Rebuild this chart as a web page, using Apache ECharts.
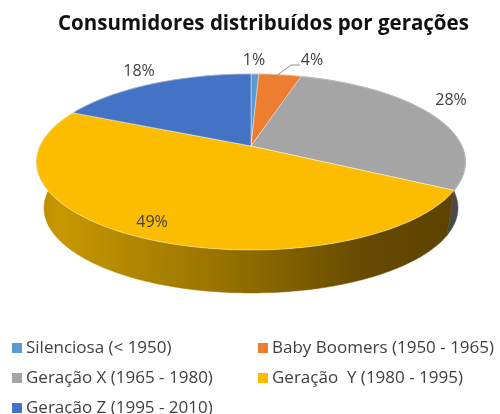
<!DOCTYPE html>
<html>
<head>
<meta charset="utf-8">
<style>html,body{margin:0;padding:0;background:#fff}#c{width:500px;height:414px;filter:blur(0.45px)}</style>
<script src="https://cdn.jsdelivr.net/npm/echarts@6/dist/echarts.min.js"></script>
</head>
<body>
<div id="c"></div>
<script>
var categories = ['Silenciosa (< 1950)', 'Baby Boomers (1950 - 1965)', 'Geração X (1965 - 1980)', 'Geração  Y (1980 - 1995)', 'Geração Z (1995 - 2010)'];
var shares = [0.7, 3.8, 28.4, 49, 18.1];
var colors = ['#5b9bd5', '#ed7d31', '#a5a5a5', '#fcbd00', '#4472c4'];

// layout, not data
var apex = {x: 251, y: 146};
var persp = {a: 85.1, b: 210.9, k: -0.1818, s: 0.965, d: 46.6};
var labelXY = [[254, 60], [312, 60], [451, 100], [152, 222], [139, 71]];
var FONT = '"Open Sans"';

function project(theta, r, lower) {
  var x = Math.sin(theta) * r, y = -Math.cos(theta) * r;
  var w = 1 + persp.k * y;
  var px = persp.b * x / w, py = persp.a * y / w;
  if (lower) { px *= persp.s; py = py * persp.s + persp.d; }
  return [apex.x + px, apex.y + py];
}
var total = shares.reduce(function (p, c) { return p + c; }, 0);
var cum = [0];
shares.forEach(function (v, i) { cum.push(cum[i] + v); });
function ang(v) { return v / total * Math.PI * 2; }
function arc(i, lower) {
  var a0 = ang(cum[i]), a1 = ang(cum[i + 1]), n = Math.max(4, Math.ceil((a1 - a0) * 60)), pts = [];
  for (var j = 0; j <= n; j++) pts.push(project(a0 + (a1 - a0) * j / n, 1, lower));
  return pts;
}
var wallFill = ['#3f6f9c', '#a85820', '#4a4a4a', '#c79700', '#2f5597'];
function wallGradient(i) {
  if (i === 3) {
    return new echarts.graphic.LinearGradient(38, 0, 450, 0, [
      {offset: 0, color: '#b98d00'}, {offset: 0.05, color: '#c79800'},
      {offset: 0.45, color: '#977200'}, {offset: 0.8, color: '#654a00'}, {offset: 1, color: '#5c4300'}
    ], true);
  }
  return wallFill[i];
}

var series = [{
  type: 'custom', name: 'walls', coordinateSystem: 'none', silent: true, z: 1,
  data: shares.map(function (v, i) { return [i, v]; }),
  renderItem: function (params, api) {
    var i = api.value(0);
    var pts = arc(i, false).concat(arc(i, true).reverse());
    return {type: 'polygon', shape: {points: pts}, style: {fill: wallGradient(i), stroke: wallGradient(i), lineWidth: 0.5}};
  }
}];
categories.forEach(function (name, i) {
  series.push({
    type: 'custom', name: name, coordinateSystem: 'none', silent: true, z: 2,
    itemStyle: {color: colors[i]},
    data: [[shares[i]]],
    renderItem: function (params, api) {
      var pts = [[apex.x, apex.y]].concat(arc(i, false));
      var kids = [{type: 'polygon', shape: {points: pts},
        style: {fill: colors[i], stroke: 'rgba(255,255,255,0.55)', lineWidth: 0.8}}];
      kids.push({type: 'text', z2: 10, style: {
        text: Math.round(api.value(0)) + '%', x: labelXY[i][0], y: labelXY[i][1],
        align: 'center', verticalAlign: 'middle', font: '16px ' + FONT, fill: '#404040'}});
      if (i === 1) {
        var p = project(ang(cum[1] + shares[1] * 0.45), 1, false);
        kids.push({type: 'polyline', shape: {points: [p, [labelXY[1][0] - 21, labelXY[1][1] + 5], [labelXY[1][0] - 12, labelXY[1][1] + 5]]},
          style: {fill: 'none', stroke: '#8c8c8c', lineWidth: 1}});
      }
      return {type: 'group', children: kids};
    }
  });
});

var legendBase = {orient: 'vertical', padding: 0, height: 110, itemWidth: 10, itemHeight: 10, itemGap: 10, icon: 'rect',
  textStyle: {fontFamily: FONT, fontSize: 17, color: '#404040', padding: [0, 0, 0, -1], lineHeight: 20}, selectedMode: false};
var chart = echarts.init(document.getElementById('c'), null, {renderer: 'canvas'});
chart.setOption({
  animation: false,
  backgroundColor: '#fff',
  color: colors,
  title: {text: 'Consumidores distribuídos por gerações', left: 53, top: 9,
    textStyle: {fontFamily: FONT, fontSize: 20.5, fontWeight: 'bold', color: '#111'}},
  legend: [
    Object.assign({}, legendBase, {left: 12, top: 338, data: [categories[0], categories[2], categories[4]]}),
    Object.assign({}, legendBase, {left: 258, top: 338, data: [categories[1], categories[3]]})
  ],
  series: series
});
</script>
</body>
</html>
